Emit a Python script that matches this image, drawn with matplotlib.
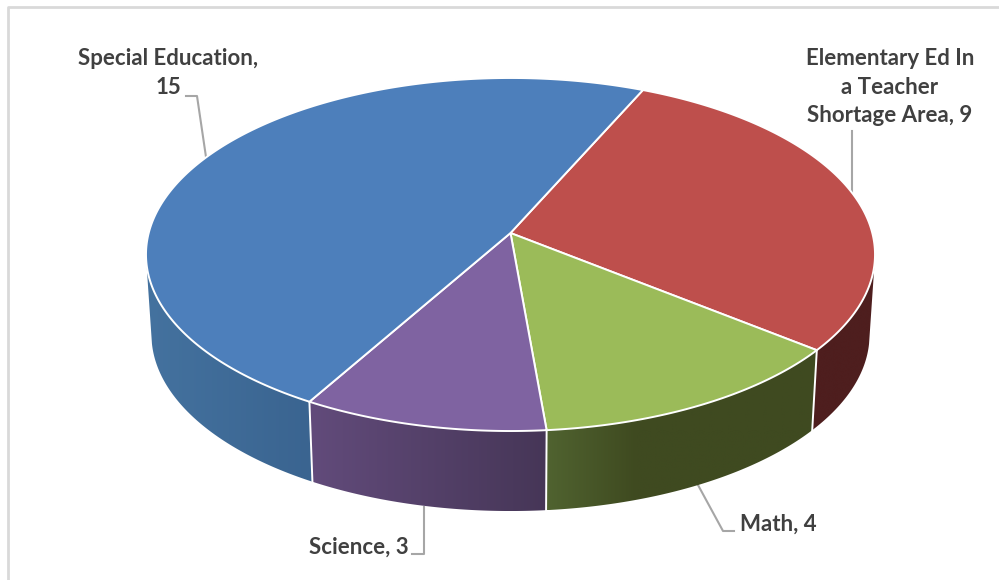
import numpy as np
import matplotlib
matplotlib.use("Agg")
import matplotlib.pyplot as plt
from matplotlib.patches import Polygon

plt.rcParams['font.family'] = ['Lato', 'DejaVu Sans']

labels = ["Elementary Ed In\na Teacher\nShortage Area, 9", "Math, 4", "Science, 3", "Special Education,\n15"]
values = [9, 4, 3, 15]
top_colors = ["#be4f4c", "#9bbb59", "#7f63a1", "#4d7fbb"]
side_colors = [["#4e1e1e", "#4e1e1e"],
               ["#506330", "#3f4a20", "#3f4a20", "#3f4a20"],
               ["#624b7b", "#463657"],
               ["#44729f", "#3a6490"]]

# pie geometry in image pixels, the tilt is a perspective of the unit circle
cx, cy = 510.5, 233
A, B, k = 361.8, 173.9, 0.1218
depth = 80
shrink = 0.985
start = 24
wall_from, wall_to = 100, 260


def rim(ang):
    t = np.radians(ang)
    u, v = np.sin(t), np.cos(t)
    return cx + A * u / (1 + k * v), cy - B * v / (1 + k * v)


def lower_rim(ang):
    x, y = rim(ang)
    return cx + (x - cx) * shrink, y + depth


fig = plt.figure(figsize=(9.99, 5.8), dpi=100)
ax = fig.add_axes([0, 0, 1, 1])
ax.set_xlim(0, 999)
ax.set_ylim(580, 0)
ax.axis('off')

# frame of the chart area
ax.plot([8, 8, 999], [580, 7, 7], color="#d9d9d9", lw=2, zorder=1)

edges = start + np.cumsum([0] + values) / sum(values) * 360

# side walls first, only the front half shows
for i in range(len(values)):
    a0, a1 = max(edges[i], wall_from), min(edges[i + 1], wall_to)
    if a1 <= a0:
        continue
    ang = np.linspace(a0, a1, 200)
    xt, yt = rim(ang)
    xb, yb = lower_rim(ang)
    px = np.r_[xt, xb[::-1]]
    py = np.r_[yt, yb[::-1]]
    poly = Polygon(np.c_[px, py], closed=True, fc='none', ec='none', zorder=2)
    ax.add_patch(poly)
    cols = matplotlib.colors.LinearSegmentedColormap.from_list("s", side_colors[i])
    # wall shading runs left to right in the reference
    grad = np.linspace(1, 0, 256).reshape(1, -1)
    im = ax.imshow(grad, cmap=cols, extent=[px.max(), px.min(), py.max(), py.min()],
                   aspect='auto', zorder=2)
    im.set_clip_path(poly)
    if wall_from < edges[i] < wall_to:
        ax.plot([xt[0], xb[0]], [yt[0], yb[0]], color="white", lw=1.4, zorder=3)
ax.set_xlim(0, 999)
ax.set_ylim(580, 0)

# top face
for i in range(len(values)):
    ang = np.linspace(edges[i], edges[i + 1], 200)
    x, y = rim(ang)
    ax.add_patch(Polygon(np.c_[np.r_[cx, x], np.r_[cy, y]], closed=True, fc=top_colors[i],
                         ec="white", lw=1.4, joinstyle='round', zorder=4))

# leader lines
leaders = [([852, 852], [131, 192]),
           ([698, 723, 734], [485, 531, 531]),
           ([424, 424, 412], [507, 554, 554]),
           ([206, 197, 186], [157, 96, 96])]
for lx, ly in leaders:
    ax.plot(lx, ly, color="#a6a6a6", lw=1.5, zorder=1.5)

label_pos = [(890, 87), (778, 524), (359, 547), (168, 73)]
for txt, (tx, ty) in zip(labels, label_pos):
    ax.text(tx, ty, txt, ha='center', va='center', fontsize=16, fontweight='bold',
            color="#404040", linespacing=1.42, zorder=5)

fig.savefig("out.png", dpi=100)
